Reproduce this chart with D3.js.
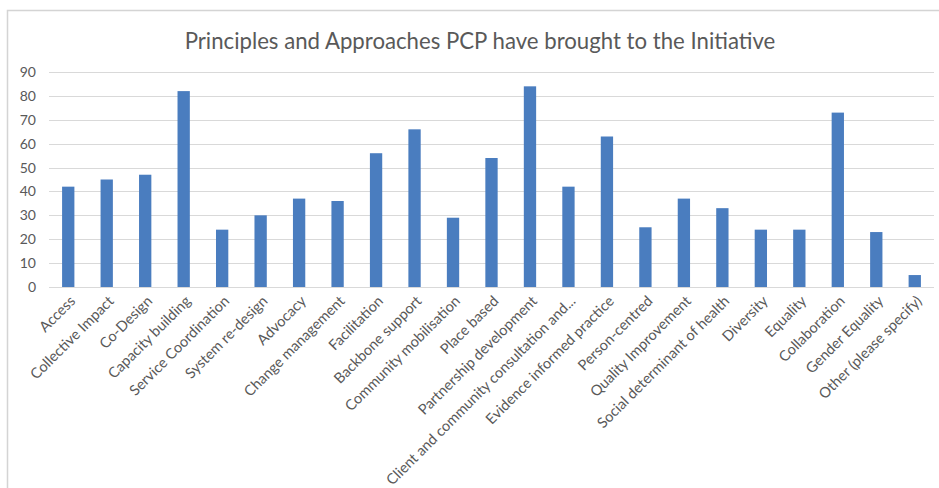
<!DOCTYPE html>
<html><head><meta charset="utf-8">
<script src="https://cdn.jsdelivr.net/npm/d3@7"></script>
<style>html,body{margin:0;padding:0;background:#fff;}</style>
</head><body>
<script>
const categories = ["Access","Collective Impact","Co-Design","Capacity building","Service Coordination","System re-design","Advocacy","Change management","Facilitation","Backbone support","Community mobilisation","Place based","Partnership development","Client and community consultation and...","Evidence informed practice","Person-centred","Quality Improvement","Social determinant of health","Diversity","Equality","Collaboration","Gender Equality","Other (please specify)"];
const values = [42,45,47,82,24,30,37,36,56,66,29,54,84,42,63,25,37,33,24,24,73,23,5];
const yTicks = [0,10,20,30,40,50,60,70,80,90];
const title = "Principles and Approaches PCP have brought to the Initiative";

const W = 939, H = 488;
const svg = d3.select("body").append("svg").attr("width", W).attr("height", H);

// chart border
svg.append("path").attr("d", `M7.5,${H} L7.5,10.5 L${W},10.5`).attr("fill","none").attr("stroke","#d4d4d4").attr("stroke-width",1.5);

const x = d3.scaleBand().domain(categories).range([49, 934]).paddingInner(0.68).paddingOuter(0.34);
const y = d3.scaleLinear().domain([0, 90]).range([287, 72]);

// gridlines
svg.append("g").selectAll("line").data(yTicks).join("line")
  .attr("x1", 49).attr("x2", 934)
  .attr("y1", d => Math.round(y(d)) + 0.5).attr("y2", d => Math.round(y(d)) + 0.5)
  .attr("stroke", "#d9d9d9").attr("stroke-width", 1);

// bars
svg.append("g").selectAll("rect").data(values).join("rect")
  .attr("x", (d, i) => x(categories[i]))
  .attr("width", x.bandwidth())
  .attr("y", d => y(d))
  .attr("height", d => y(0) - y(d))
  .attr("fill", "#4a7dbf");

// y axis labels
const yAxis = d3.axisLeft(y).tickValues(yTicks).tickSize(0).tickPadding(0);
const gy = svg.append("g").attr("transform", "translate(36,0)").call(yAxis);
gy.select(".domain").remove();
gy.selectAll("text").attr("font-family", "Lato, sans-serif").attr("font-size", 14).attr("fill", "#595959");

// x axis labels
const xAxis = d3.axisBottom(x).tickSize(0).tickPadding(0);
const gx = svg.append("g").attr("transform", "translate(0,287)").call(xAxis);
gx.select(".domain").remove();
gx.selectAll("text")
  .attr("font-family", "Lato, sans-serif").attr("font-size", 14.6).attr("fill", "#595959")
  .attr("text-anchor", "end")
  .attr("dy", null)
  .attr("y", 0)
  .attr("transform", "translate(8,15) rotate(-45)");

// title
svg.append("text").attr("x", 480).attr("y", 49).attr("text-anchor", "middle")
  .attr("font-family", "Lato, sans-serif").attr("font-size", 22.2).attr("fill", "#595959")
  .text(title);
</script>
</body></html>
